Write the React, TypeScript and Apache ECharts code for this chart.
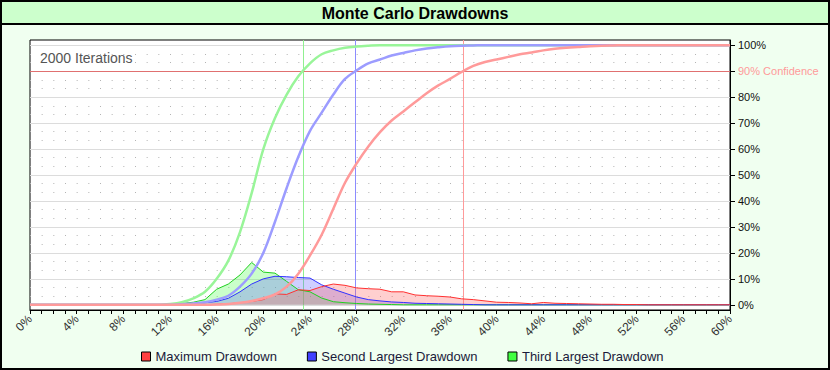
import React, { useEffect, useRef } from 'react';
import * as echarts from 'echarts';

// Drawdown size (%) – x positions of every sample
const drawdownPct = [
  0, 1, 2, 3, 4, 5, 6, 7, 8, 9, 10, 11, 12, 13, 14, 15, 16, 17, 18, 19, 20,
  21, 22, 23, 24, 25, 26, 27, 28, 29, 30, 31, 32, 33, 34, 35, 36, 37, 38, 39, 40,
  41, 42, 43, 44, 45, 46, 47, 48, 49, 50, 51, 52, 53, 54, 55, 56, 57, 58, 59, 60,
];

// Cumulative distributions (% of iterations)
const maxCdf = [
  0, 0, 0, 0, 0, 0, 0, 0, 0, 0, 0, 0, 0, 0, 0, 0, 0.1, 0.3, 0.8, 1.5, 2.5,
  4, 7, 12, 19, 27, 37, 47, 54.5, 61, 66.5, 71, 74.5, 78, 81.5, 84.5, 87, 89.7, 92, 93.5, 94.5,
  95.5, 96.5, 97.2, 98, 98.6, 99, 99.3, 99.6, 99.8, 99.9, 100, 100, 100, 100, 100, 100, 100, 100, 100, 100,
];
const secondCdf = [
  0, 0, 0, 0, 0, 0, 0, 0, 0, 0, 0, 0, 0, 0.2, 0.5, 1, 2, 3.5, 7, 12, 20,
  32, 45, 57, 67, 74, 81, 87, 90.3, 93, 94.5, 96, 97, 98, 98.7, 99.2, 99.6, 99.8, 99.9, 100, 100,
  100, 100, 100, 100, 100, 100, 100, 100, 100, 100, 100, 100, 100, 100, 100, 100, 100, 100, 100, 100,
];
const thirdCdf = [
  0, 0, 0, 0, 0, 0, 0, 0, 0, 0, 0, 0, 0.3, 1, 2.5, 5, 10, 17, 28, 43, 60,
  72, 81, 88, 93, 96.5, 98, 99, 99.5, 99.8, 100, 100, 100, 100, 100, 100, 100, 100, 100, 100, 100,
  100, 100, 100, 100, 100, 100, 100, 100, 100, 100, 100, 100, 100, 100, 100, 100, 100, 100, 100, 100,
];

// Frequency distributions (% of iterations per 1% bucket)
const maxPdf = [
  0, 0, 0, 0, 0, 0, 0, 0, 0, 0, 0, 0, 0, 0, 0, 0, 0.2, 0.4, 0.8, 1.3, 2,
  4.2, 4, 5.8, 5.5, 7, 8, 7.5, 6.5, 6.2, 6, 5, 5, 3.8, 3.5, 3.3, 3, 2.3, 2, 1.5, 1,
  0.9, 0.7, 0.4, 0.9, 0.6, 0.5, 0.4, 0.3, 0.2, 0.2, 0.1, 0.1, 0, 0, 0, 0, 0, 0, 0, 0,
];
const secondPdf = [
  0, 0, 0, 0, 0, 0, 0, 0, 0, 0, 0, 0, 0, 0.2, 0.4, 0.8, 1.3, 2.5, 5, 8, 10,
  11, 10.8, 10.5, 10.3, 7.7, 6, 4.5, 3, 2, 1.5, 1.1, 0.9, 0.6, 0.5, 0.4, 0.3, 0.2, 0.1, 0, 0,
  0, 0, 0, 0, 0, 0, 0, 0, 0, 0, 0, 0, 0, 0, 0, 0, 0, 0, 0, 0,
];
const thirdPdf = [
  0, 0, 0, 0, 0, 0, 0, 0, 0, 0, 0, 0, 0, 0.5, 1, 2, 6, 8, 11.5, 16.3, 12.6,
  12.2, 9, 5.8, 5, 2.6, 1.2, 0.8, 0.5, 0.3, 0.2, 0.1, 0, 0, 0, 0, 0, 0, 0, 0, 0,
  0, 0, 0, 0, 0, 0, 0, 0, 0, 0, 0, 0, 0, 0, 0, 0, 0, 0, 0, 0,
];

const seriesNames = ['Maximum Drawdown', 'Second Largest Drawdown', 'Third Largest Drawdown'];
const confidence90 = [37.15, 27.9, 23.4]; // drawdown at 90% confidence (max, second, third)
const confidenceLevel = 90;
const yTickValues = [0, 10, 20, 30, 40, 50, 60, 70, 80, 90, 100];
const titleText = 'Monte Carlo Drawdowns';
const iterationsText = '2000 Iterations';

const FONT = '"Liberation Sans", Arial, sans-serif';

const pairs = (ys: number[]) => drawdownPct.map((x, i) => [x, ys[i]]);

export default function App() {
  const ref = useRef<HTMLDivElement>(null);

  useEffect(() => {
    document.body.style.margin = '0';
    const chart = echarts.init(ref.current!, null, { renderer: 'svg' });

    const pdfColors = ['#ff3030', '#3030ff', '#20d020'];
    const areaColors = ['#ff6060', '#6060ff', '#50ff50'];
    const cdfColors = ['#ff9a9a', '#9c9cff', '#99f599'];
    const vColors = ['#ff9a9a', '#8c8cff', '#90f090'];
    const legendColors = ['#ff4040', '#4040ff', '#40ff40'];
    const pdfs = [maxPdf, secondPdf, thirdPdf];
    const cdfs = [maxCdf, secondCdf, thirdCdf];

    const pdfSeries = [2, 1, 0].map((i) => ({
      name: seriesNames[i],
      type: 'line',
      data: pairs(pdfs[i]),
      showSymbol: false,
      symbol: 'none',
      z: 2,
      lineStyle: { color: pdfColors[i], width: 1 },
      itemStyle: { color: legendColors[i] },
      areaStyle: { color: areaColors[i], opacity: 0.3 },
    }));

    const cdfSeries = [2, 1, 0].map((i) => ({
      name: seriesNames[i] + ' (cumulative)',
      type: 'line',
      data: pairs(cdfs[i]),
      showSymbol: false,
      symbol: 'none',
      smooth: 0.35,
      z: 3,
      lineStyle: { color: cdfColors[i], width: 2.5 },
      itemStyle: { color: cdfColors[i] },
      markLine: {
        silent: true,
        symbol: ['none', 'none'],
        label: { show: false },
        z: 1,
        data: [
          { xAxis: confidence90[i], lineStyle: { color: vColors[i], width: 1, type: 'solid' } },
          ...(i === 0
            ? [{ yAxis: confidenceLevel, lineStyle: { color: '#e07070', width: 1, type: 'solid' } }]
            : []),
        ],
      },
    }));

    chart.setOption({
      animation: false,
      backgroundColor: '#f0fff0',
      textStyle: { fontFamily: FONT },
      grid: {
        left: 30,
        right: 100,
        top: 40,
        bottom: 60,
        show: true,
        backgroundColor: '#ffffff',
        borderColor: '#000000',
        borderWidth: 1,
      },
      legend: {
        left: 136,
        top: 345,
        itemWidth: 9,
        itemHeight: 9,
        itemGap: 30,
        selectedMode: false,
        textStyle: { fontSize: 13, color: '#1a1a3a', fontFamily: FONT },
        data: [0, 1, 2].map((i) => ({
          name: seriesNames[i],
          icon: 'rect',
          itemStyle: { color: legendColors[i], borderColor: '#000', borderWidth: 1 },
        })),
      },
      xAxis: {
        type: 'value',
        min: 0,
        max: 60,
        interval: 4,
        axisLine: { show: true, onZero: false, lineStyle: { color: '#000', width: 1 } },
        axisTick: { show: true, length: 4, lineStyle: { color: '#000' } },
        minorTick: { show: true, splitNumber: 4, length: 4, lineStyle: { color: '#000' } },
        splitLine: { show: false },
        minorSplitLine: { show: false },
        axisLabel: {
          rotate: 45,
          margin: 7,
          fontSize: 12,
          color: '#333',
          fontFamily: FONT,
          formatter: (v: number) => v + '%',
        },
      },
      yAxis: {
        type: 'value',
        position: 'right',
        min: -2,
        max: 102,
        splitNumber: 10,
        minInterval: 10,
        maxInterval: 10,
        axisLine: { show: true, onZero: false, lineStyle: { color: '#000', width: 1 } },
        axisTick: { show: true, length: 5, customValues: yTickValues, lineStyle: { color: '#000' } },
        minorTick: { show: false, splitNumber: 3 },
        splitLine: { show: true, lineStyle: { color: '#dcdcdc', width: 1 } },
        minorSplitLine: {
          show: true,
          lineStyle: { color: '#b4b4b4', width: 1, type: [1, 10.667] },
        },
        axisLabel: {
          customValues: yTickValues,
          margin: 8,
          fontSize: 11,
          color: '#111',
          fontFamily: FONT,
          formatter: (v: number) => {
            if (v < 0 || v > 100) return '';
            if (v === confidenceLevel) return '{c|' + confidenceLevel + '% Confidence}';
            return v + '%';
          },
          rich: { c: { color: '#ff9a9a', fontSize: 11, fontFamily: FONT } },
        },
      },
      graphic: [
        {
          type: 'rect',
          z: 0,
          shape: { x: 0, y: 0, width: 830, height: 24 },
          style: { fill: '#ccffcc' },
        },
        {
          type: 'line',
          z: 1,
          shape: { x1: 0, y1: 24, x2: 830, y2: 24 },
          style: { stroke: '#000', lineWidth: 2 },
        },
        {
          type: 'text',
          z: 10,
          x: 415,
          y: 13,
          style: {
            text: titleText,
            fill: '#000',
            font: 'bold 16px ' + FONT,
            textAlign: 'center',
            textVerticalAlign: 'middle',
          },
        },
        {
          type: 'text',
          z: 100,
          x: 40,
          y: 58,
          style: {
            text: iterationsText,
            fill: '#555',
            font: '14px ' + FONT,
            textAlign: 'left',
            textVerticalAlign: 'middle',
          },
        },
        {
          type: 'rect',
          z: 100,
          shape: { x: 1, y: 1, width: 828, height: 368 },
          style: { fill: 'none', stroke: '#000', lineWidth: 2 },
        },
      ],
      series: [...pdfSeries, ...cdfSeries],
    });

    return () => chart.dispose();
  }, []);

  return (
    <div
      ref={ref}
      style={{ position: 'absolute', left: 0, top: 0, width: 830, height: 370 }}
    />
  );
}
